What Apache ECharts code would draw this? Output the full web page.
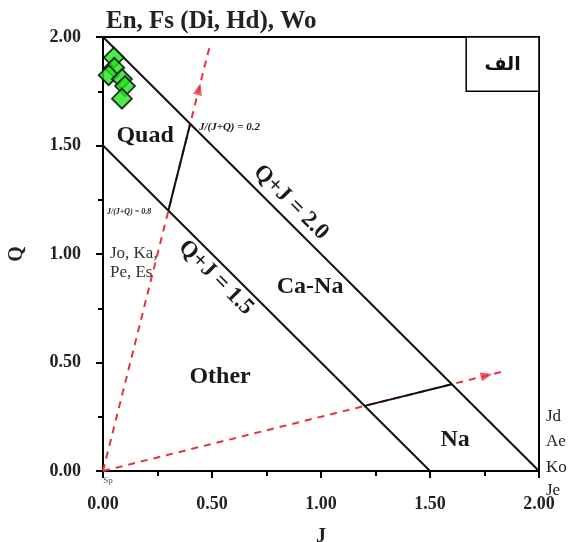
<!DOCTYPE html>
<html>
<head>
<meta charset="utf-8">
<script src="https://cdn.jsdelivr.net/npm/echarts@6/dist/echarts.min.js"></script>
<style>html,body{margin:0;padding:0;background:#fff;}#c{width:576px;height:542px;}</style>
</head>
<body>
<div id="c"></div>
<script>
// ---- data ----
const axisTicks = [0, 0.5, 1.0, 1.5, 2.0];
const sampleJ = [0.050, 0.052, 0.026, 0.087, 0.101, 0.087];
const sampleQ = [1.905, 1.858, 1.824, 1.806, 1.774, 1.716];
const lineSum20 = [[0, 2], [2, 0]];
const lineSum15 = [[0, 1.5], [1.5, 0]];
const segRatio02 = [[0.3, 1.2], [0.4, 1.6]];
const segRatio08 = [[1.2, 0.3], [1.6, 0.4]];
const redLine02 = [[0, 0], [0.49, 1.96]];
const redLine08 = [[0, 0], [1.85, 0.4625]];
const arrowPts = [[0.44, 1.76], [1.76, 0.44]];
const regionLabels = ['Quad', 'Ca-Na', 'Other', 'Na'];
const titleText = 'En, Fs (Di, Hd), Wo';

const serif = "'Liberation Serif', 'DejaVu Serif', serif";
const chart = echarts.init(document.getElementById('c'), null, {renderer: 'canvas'});

const axisCommon = {
  type: 'value', min: 0, max: 2, interval: 0.5,
  axisLine: {show: true, onZero: false, lineStyle: {color: '#000', width: 2}},
  axisTick: {show: true, inside: false, length: 7, lineStyle: {color: '#000', width: 2}},
  minorTick: {show: true, splitNumber: 2, length: 5, lineStyle: {color: '#000', width: 2}},
  splitLine: {show: false},
  axisLabel: {fontFamily: serif, fontWeight: 'bold', fontSize: 18, color: '#222',
    formatter: v => axisTicks.includes(v) ? v.toFixed(2) : ''},
  nameLocation: 'middle',
  nameTextStyle: {fontFamily: serif, fontWeight: 'bold', fontSize: 20, color: '#222'}
};

function blackLine(data) {
  return {type: 'line', data: data, symbol: 'none', silent: true,
    lineStyle: {color: '#111', width: 2}, z: 3};
}
function redLine(data) {
  return {type: 'line', data: data, symbol: 'none', silent: true,
    lineStyle: {color: '#e8323c', width: 2, type: [7, 6]}, z: 2};
}

chart.setOption({
  animation: false,
  title: {text: titleText, left: 101, top: 4,
    textStyle: {fontFamily: serif, fontWeight: 'bold', fontSize: 25, color: '#222'}},
  grid: {left: 103, right: 37, top: 37, bottom: 71, show: true, borderColor: '#000', borderWidth: 2,
    backgroundColor: 'transparent', containLabel: false, outerBoundsMode: 'none'},
  xAxis: Object.assign({}, axisCommon, {name: 'J', nameGap: 56,
    axisLabel: Object.assign({}, axisCommon.axisLabel, {margin: 24})}),
  yAxis: Object.assign({}, axisCommon, {name: 'Q', nameGap: 76,
    axisLabel: Object.assign({}, axisCommon.axisLabel, {margin: 22})}),
  series: [
    redLine(redLine02),
    redLine(redLine08),
    blackLine(lineSum20),
    blackLine(lineSum15),
    blackLine(segRatio02),
    blackLine(segRatio08),
    {type: 'scatter', data: [
        {value: arrowPts[0], symbolRotate: -14},
        {value: arrowPts[1], symbolRotate: -76}],
      symbol: 'triangle', symbolSize: [9, 12], itemStyle: {color: '#e8323c'}, z: 4, silent: true},
    {type: 'scatter', data: sampleJ.map((j, i) => [j, sampleQ[i]]),
      symbol: 'diamond', symbolSize: 20,
      itemStyle: {color: '#22e31e', borderColor: '#000', borderWidth: 1.8}, z: 5}
  ]
});

// ---- annotations (placed in data coordinates) ----
function px(p) { return chart.convertToPixel({gridIndex: 0}, p); }
function txt(text, p, opt) {
  const c = px(p);
  opt = opt || {};
  return {type: 'text', x: c[0], y: c[1], rotation: opt.rot || 0, z: 10, silent: true,
    style: {text: text, fill: opt.fill || '#1a1a1a',
      font: opt.font || ("bold 23px " + serif),
      textAlign: opt.align || 'center', textVerticalAlign: 'middle'}};
}
const g = [];
g.push(txt(regionLabels[0], [0.193, 1.543], {font: "bold 24px " + serif}));
g.push(txt(regionLabels[1], [0.950, 0.850], {font: "bold 24px " + serif}));
g.push(txt(regionLabels[2], [0.537, 0.434], {font: "bold 24px " + serif}));
g.push(txt(regionLabels[3], [1.615, 0.143], {font: "bold 24px " + serif}));
g.push(txt('Q+J = 2.0', [0.862, 1.238], {font: "bold 23px " + serif, rot: -Math.PI / 4}));
g.push(txt('Q+J = 1.5', [0.518, 0.891], {font: "bold 23px " + serif, rot: -Math.PI / 4}));
g.push(txt('J/(J+Q) = 0.2', [0.44, 1.584], {font: "italic bold 11px " + serif, align: 'left'}));
g.push(txt('J/(J+Q) = 0.8', [0.018, 1.196], {font: "italic bold 8px " + serif, align: 'left'}));
g.push(txt('Jo, Ka,', [0.032, 1.0], {font: "17px " + serif, align: 'left', fill: '#333'}));
g.push(txt('Pe, Es', [0.032, 0.915], {font: "17px " + serif, align: 'left', fill: '#333'}));
g.push(txt('Jd', [2.032, 0.249], {font: "17px " + serif, align: 'left', fill: '#222'}));
g.push(txt('Ae', [2.032, 0.134], {font: "17px " + serif, align: 'left', fill: '#222'}));
g.push(txt('Ko', [2.032, 0.018], {font: "17px " + serif, align: 'left', fill: '#222'}));
g.push(txt('Je', [2.032, -0.088], {font: "17px " + serif, align: 'left', fill: '#222'}));
g.push(txt('Sp', [0.001, -0.045], {font: "9px " + serif, align: 'left', fill: '#555'}));
// label box in the top-right corner
const tl = px([1.666, 2.0]);
const br = px([2.0, 1.75]);
g.push({type: 'rect', z: 9, silent: true,
  shape: {x: tl[0], y: tl[1], width: br[0] - tl[0], height: br[1] - tl[1]},
  style: {fill: '#fff', stroke: '#000', lineWidth: 1.5}});
g.push({type: 'text', z: 10, silent: true, x: (tl[0] + br[0]) / 2, y: (tl[1] + br[1]) / 2 + 1,
  style: {text: 'الف', fill: '#111', font: "bold 19px 'DejaVu Sans', sans-serif",
    textAlign: 'center', textVerticalAlign: 'middle'}});
chart.setOption({graphic: g});
</script>
</body>
</html>
